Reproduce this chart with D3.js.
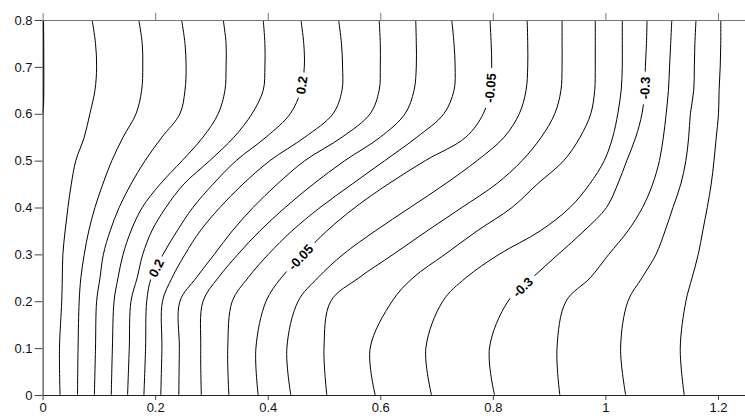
<!DOCTYPE html>
<html><head><meta charset="utf-8">
<script src="https://cdn.jsdelivr.net/npm/d3@7"></script>
<style>body{margin:0;background:#fff} svg{display:block}</style>
</head><body><svg id="c" width="745" height="416"></svg>
<script>
// ---------- data ----------
const yGrid = [0, 0.1, 0.2, 0.25, 0.3, 0.35, 0.4, 0.45, 0.5, 0.55, 0.6, 0.65, 0.7, 0.75, 0.8];
const levels = [0.45, 0.4, 0.35, 0.3, 0.25, 0.2, 0.15, 0.1, 0.05, 0, -0.05, -0.1, -0.15, -0.2, -0.25, -0.3, -0.35, -0.4, -0.45];
// x position of each contour level at every yGrid value
const lineX = [
  [0.031, 0.030, 0.034, 0.035, 0.036, 0.040, 0.045, 0.051, 0.059, 0.074, 0.084, 0.093, 0.096, 0.094, 0.088],
  [0.062, 0.063, 0.065, 0.068, 0.074, 0.082, 0.093, 0.107, 0.123, 0.143, 0.166, 0.176, 0.178, 0.177, 0.171],
  [0.092, 0.094, 0.096, 0.102, 0.108, 0.120, 0.136, 0.157, 0.182, 0.212, 0.244, 0.253, 0.255, 0.253, 0.247],
  [0.122, 0.124, 0.127, 0.134, 0.143, 0.157, 0.177, 0.209, 0.248, 0.285, 0.312, 0.324, 0.326, 0.326, 0.321],
  [0.151, 0.154, 0.157, 0.168, 0.178, 0.194, 0.219, 0.251, 0.297, 0.340, 0.372, 0.392, 0.395, 0.395, 0.392],
  [0.180, 0.183, 0.185, 0.193, 0.214, 0.239, 0.267, 0.303, 0.344, 0.397, 0.440, 0.459, 0.465, 0.464, 0.459],
  [0.210, 0.212, 0.213, 0.230, 0.253, 0.280, 0.315, 0.356, 0.404, 0.466, 0.516, 0.532, 0.533, 0.531, 0.526],
  [0.242, 0.243, 0.244, 0.273, 0.305, 0.337, 0.374, 0.417, 0.466, 0.532, 0.582, 0.598, 0.600, 0.600, 0.598],
  [0.282, 0.281, 0.285, 0.312, 0.347, 0.386, 0.431, 0.481, 0.537, 0.600, 0.644, 0.660, 0.664, 0.664, 0.663],
  [0.331, 0.329, 0.337, 0.365, 0.401, 0.443, 0.493, 0.550, 0.608, 0.665, 0.713, 0.731, 0.733, 0.731, 0.727],
  [0.383, 0.379, 0.397, 0.424, 0.463, 0.505, 0.555, 0.614, 0.680, 0.752, 0.783, 0.795, 0.798, 0.797, 0.795],
  [0.441, 0.434, 0.454, 0.489, 0.534, 0.591, 0.653, 0.715, 0.772, 0.820, 0.847, 0.859, 0.862, 0.862, 0.861],
  [0.505, 0.500, 0.512, 0.562, 0.623, 0.683, 0.745, 0.806, 0.852, 0.886, 0.910, 0.921, 0.923, 0.923, 0.923],
  [0.591, 0.582, 0.621, 0.658, 0.715, 0.772, 0.834, 0.879, 0.926, 0.955, 0.974, 0.981, 0.982, 0.982, 0.982],
  [0.691, 0.681, 0.711, 0.752, 0.811, 0.884, 0.937, 0.972, 0.998, 1.013, 1.022, 1.028, 1.030, 1.030, 1.030],
  [0.803, 0.794, 0.827, 0.870, 0.916, 0.962, 1.002, 1.022, 1.038, 1.054, 1.065, 1.070, 1.071, 1.073, 1.074],
  [0.919, 0.914, 0.930, 0.973, 1.006, 1.040, 1.066, 1.084, 1.096, 1.103, 1.108, 1.112, 1.114, 1.116, 1.118],
  [1.036, 1.027, 1.040, 1.065, 1.090, 1.106, 1.120, 1.134, 1.143, 1.148, 1.151, 1.157, 1.158, 1.159, 1.161],
  [1.140, 1.133, 1.143, 1.154, 1.165, 1.173, 1.181, 1.188, 1.193, 1.197, 1.201, 1.202, 1.204, 1.205, 1.205]
];
// short contour hugging the left edge (level 0.5)
const edgeY = [0.6, 0.62, 0.7, 0.8];
const edgeX = [0.0, 0.0015, 0.002, 0.0015];

const xTicks = [0, 0.2, 0.4, 0.6, 0.8, 1, 1.2];
const xTickLabels = ["0", "0.2", "0.4", "0.6", "0.8", "1", "1.2"];
const yTicks = [0, 0.1, 0.2, 0.3, 0.4, 0.5, 0.6, 0.7, 0.8];
const yTickLabels = ["0", "0.1", "0.2", "0.3", "0.4", "0.5", "0.6", "0.7", "0.8"];

const labelLevels = [0.2, -0.05, -0.3];
const labelTexts = ["0.2", "-0.05", "-0.3"];
const labelYs = [[0.661, 0.271], [0.655, 0.294], [0.655, 0.230]];

// ---------- chart ----------
const W = 745, H = 416;
const x = d3.scaleLinear().domain([0, 1.25]).range([42.6, 746.1]);
const y = d3.scaleLinear().domain([0, 0.8]).range([395, 20]);
const svg = d3.select("#c");
const FONT = "'Liberation Sans', Arial, sans-serif";

const defs = svg.append("defs");
defs.append("clipPath").attr("id", "plot").append("rect")
  .attr("x", x(0)).attr("y", y(0.8)).attr("width", x(1.25) - x(0)).attr("height", y(0) - y(0.8));

function placeAt(xs, yv) {
  let k = 0;
  while (k < yGrid.length - 2 && yGrid[k + 1] < yv) k++;
  const t = (yv - yGrid[k]) / (yGrid[k + 1] - yGrid[k]);
  const xv = xs[k] + (xs[k + 1] - xs[k]) * t;
  const dx = x(xs[k + 1]) - x(xs[k]);
  const dy = y(yGrid[k + 1]) - y(yGrid[k]);
  return { px: x(xv), py: y(yv), ang: Math.atan2(dy, dx) * 180 / Math.PI };
}
const labels = [];
labelLevels.forEach((lv, j) => {
  const idx = levels.indexOf(lv);
  labelYs[j].forEach(yv => {
    const p = placeAt(lineX[idx], yv);
    labels.push({ text: labelTexts[j], ...p });
  });
});

const mask = defs.append("mask").attr("id", "gap").attr("maskUnits", "userSpaceOnUse")
  .attr("x", 0).attr("y", 0).attr("width", W).attr("height", H);
mask.append("rect").attr("x", 0).attr("y", 0).attr("width", W).attr("height", H).attr("fill", "#fff");
labels.forEach(l => {
  const len = l.text.length * 7.2 + 4;
  mask.append("rect")
    .attr("x", -len / 2).attr("y", -6.5).attr("width", len).attr("height", 13)
    .attr("fill", "#000")
    .attr("transform", `translate(${l.px},${l.py}) rotate(${l.ang})`);
});

const line = d3.line().x(d => x(d[0])).y(d => y(d[1])).curve(d3.curveCatmullRom.alpha(0.5));
const g = svg.append("g").attr("clip-path", "url(#plot)").append("g").attr("mask", "url(#gap)");
g.selectAll("path.c").data(lineX).join("path")
  .attr("class", "c")
  .attr("d", xs => line(xs.map((v, i) => [v, yGrid[i]])))
  .attr("fill", "none").attr("stroke", "#000").attr("stroke-width", 1);
g.append("path")
  .attr("d", line(edgeX.map((v, i) => [v, edgeY[i]])))
  .attr("fill", "none").attr("stroke", "#000").attr("stroke-width", 1.2);

svg.selectAll("text.lab").data(labels).join("text")
  .attr("class", "lab")
  .attr("transform", l => `translate(${l.px},${l.py}) rotate(${l.ang})`)
  .attr("text-anchor", "middle").attr("dy", "0.36em")
  .attr("font-family", FONT).attr("font-size", 13).attr("font-weight", "bold")
  .attr("fill", "#000")
  .text(l => l.text);

// axes
const ax = svg.append("g").attr("transform", `translate(0,${y(0)})`)
  .call(d3.axisBottom(x).tickValues(xTicks).tickFormat((d, i) => xTickLabels[i]).tickSize(5).tickPadding(3).tickSizeOuter(0));
const ay = svg.append("g").attr("transform", `translate(${x(0)},0)`)
  .call(d3.axisLeft(y).tickValues(yTicks).tickFormat((d, i) => yTickLabels[i]).tickSize(8).tickPadding(2).tickSizeOuter(0));
const at = svg.append("g").attr("transform", `translate(0,${y(0.8)})`)
  .call(d3.axisTop(x).tickValues(xTicks).tickFormat("").tickSize(7).tickSizeOuter(0));
[ax, ay].forEach(a => {
  a.selectAll("text").attr("font-family", FONT).attr("font-size", 13).attr("fill", "#111");
  a.selectAll("line").attr("stroke", "#444");
  a.select(".domain").attr("stroke", "#222");
});
at.selectAll("line").attr("stroke", "#777");
at.select(".domain").attr("stroke", "#777");
</script></body></html>
